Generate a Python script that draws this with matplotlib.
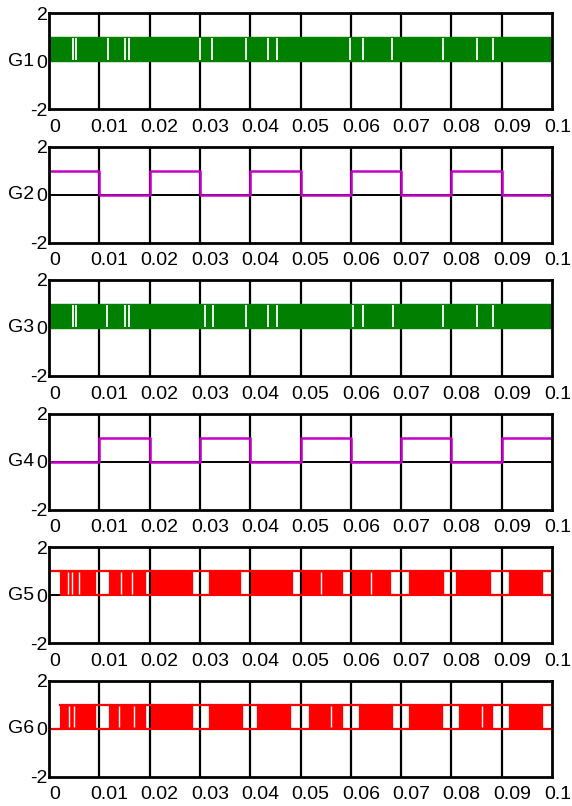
import numpy as np
import matplotlib.pyplot as plt
from matplotlib.transforms import ScaledTranslation

plt.rcParams['font.family'] = ['Liberation Sans', 'DejaVu Sans']

# Datos
t_ticks = [0, 0.01, 0.02, 0.03, 0.04, 0.05, 0.06, 0.07, 0.08, 0.09, 0.1]
tick_labels = ['0', '0.01', '0.02', '0.03', '0.04', '0.05', '0.06', '0.07', '0.08', '0.09', '0.1']

# G2 / G4: ondas cuadradas (valor en cada flanco, step 'post')
g2_t = [0, 0.01, 0.02, 0.03, 0.04, 0.05, 0.06, 0.07, 0.08, 0.09, 0.1, 0.1]
g2_v = [1, 0, 1, 0, 1, 0, 1, 0, 1, 0, 0, 1]
g4_t = [0, 0.01, 0.02, 0.03, 0.04, 0.05, 0.06, 0.07, 0.08, 0.09, 0.1, 0.1]
g4_v = [0, 1, 0, 1, 0, 1, 0, 1, 0, 1, 1, 0]

# G1 / G3: conmutacion densa 0-1 en todo el intervalo, con pausas visibles
g1_pausas = [0.0048, 0.0054, 0.0117, 0.0151, 0.0159, 0.0300, 0.0324, 0.0392,
             0.0435, 0.0453, 0.0598, 0.0624, 0.0682, 0.0783, 0.0851, 0.0883]
g3_pausas = [0.0048, 0.0054, 0.0115, 0.0151, 0.0159, 0.0310, 0.0326, 0.0392,
             0.0435, 0.0453, 0.0604, 0.0624, 0.0684, 0.0783, 0.0851, 0.0883]

# G5 / G6: rafagas de conmutacion (inicio, fin)
g5_rafagas = [(0.0022, 0.0091), (0.0121, 0.0191), (0.0205, 0.0284), (0.0320, 0.0380),
              (0.0404, 0.0483), (0.0505, 0.0583), (0.0604, 0.0678), (0.0718, 0.0783),
              (0.0811, 0.0877), (0.0917, 0.0980)]
g6_rafagas = [(0.0022, 0.0091), (0.0121, 0.0191), (0.0205, 0.0284), (0.0320, 0.0384),
              (0.0416, 0.0479), (0.0519, 0.0583), (0.0618, 0.0682), (0.0718, 0.0781),
              (0.0817, 0.0881), (0.0917, 0.0980)]
g5_pausas = [0.0038, 0.0046, 0.0060, 0.0144, 0.0166, 0.0540, 0.0640]
g6_pausas = [0.0040, 0.0050, 0.0140, 0.0168, 0.0560, 0.0860]
g5_inicio, g5_final = 1, 1
g6_inicio, g6_final = 0, 0

verde = '#007f00'
magenta = '#c400c4'
rojo = '#ff0000'

fig = plt.figure(figsize=(5.72, 8.06), dpi=100)
W, H = 572, 806

axes = []
for i in range(6):
    top = 13 + i * 133.5
    ax = fig.add_axes([49 / W, 1 - (top + 96) / H, 503 / W, 96 / H])
    axes.append(ax)


def estilo(ax, nombre):
    ax.set_xlim(0, 0.1)
    ax.set_ylim(-2, 2)
    for x in t_ticks[1:-1]:
        ax.axvline(x, color='k', lw=1.6, zorder=1)
    ax.axhline(0, color='k', lw=1.4, zorder=1)
    ax.set_xticks(t_ticks)
    ax.set_xticklabels(tick_labels, fontsize=14)
    ax.set_yticks([-2, 0, 2])
    ax.set_yticklabels(['-2', '0', '2'], fontsize=14)
    ax.tick_params(axis='y', length=0, pad=1)
    ax.tick_params(axis='x', length=0, pad=7)
    labs = ax.xaxis.get_majorticklabels()
    for k, lab in enumerate(labs):
        dx = 6 if k in (0, len(labs) - 1) else 10
        off = ScaledTranslation(dx / 100, 0, fig.dpi_scale_trans)
        lab.set_transform(lab.get_transform() + off)
    for s in ax.spines.values():
        s.set_linewidth(2.0)
    ax.set_ylabel(nombre, rotation=0, fontsize=14, ha='right', va='center')
    ax.yaxis.set_label_coords(-0.029, 0.5)


def banda(ax, pausas, color):
    ax.fill_between([0, 0.1], 0, 1, color=color, lw=1.0, edgecolor=color, zorder=2)
    ax.vlines(pausas, 0.04, 0.96, color='white', lw=1.3, zorder=3)


def rafagas(ax, raf, pausas, inicio, final, color):
    lw = 1.6
    a0 = raf[0][0]
    ax.plot([0, a0], [inicio, inicio], color=color, lw=lw, zorder=2)
    ax.plot([a0, 0.1], [1, 1], color=color, lw=lw, zorder=2)
    for a, b in raf:
        ax.fill_between([a, b], 0, 1, color=color, lw=0.8, edgecolor=color, zorder=2)
    fines = [r[1] for r in raf]
    inicios = [r[0] for r in raf[1:]] + [0.1]
    for b, a in zip(fines, inicios):
        ax.plot([b, b, a, a], [1, 0, 0, final if a == 0.1 else 1],
                color=color, lw=lw, zorder=2)
    ax.vlines(pausas, 0.05, 0.95, color='white', lw=1.0, zorder=3)


banda(axes[0], g1_pausas, verde)
axes[1].step(g2_t, g2_v, where='post', color=magenta, lw=1.8, zorder=2)
banda(axes[2], g3_pausas, verde)
axes[3].step(g4_t, g4_v, where='post', color=magenta, lw=1.8, zorder=2)
rafagas(axes[4], g5_rafagas, g5_pausas, g5_inicio, g5_final, rojo)
rafagas(axes[5], g6_rafagas, g6_pausas, g6_inicio, g6_final, rojo)

for ax, n in zip(axes, ['G1', 'G2', 'G3', 'G4', 'G5', 'G6']):
    estilo(ax, n)

fig.savefig('out.png', dpi=100)
